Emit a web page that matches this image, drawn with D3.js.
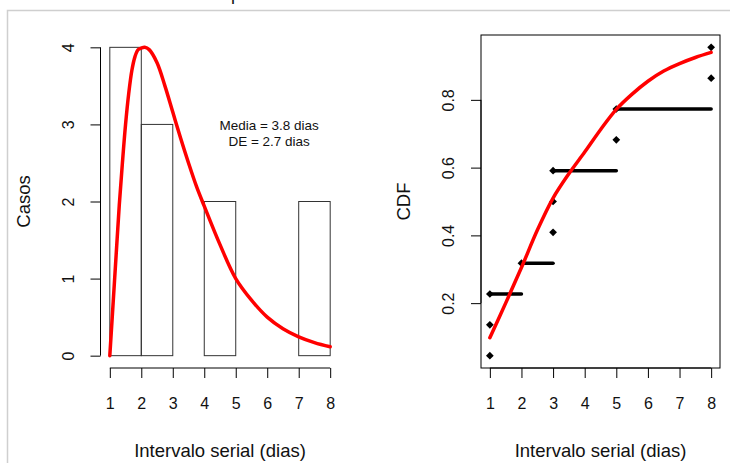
<!DOCTYPE html>
<html>
<head>
<meta charset="utf-8">
<script src="https://cdn.jsdelivr.net/npm/d3@7"></script>
<style>
    html, body { margin: 0; padding: 0; background: #fff; }
    svg { display: block; }
    text { font-family: "Liberation Sans", Arial, Helvetica, sans-serif; fill: #111; }
</style>
</head>
<body>
<div id="chart"></div>
<script>
// Data - histogram
const xTicks = [1, 2, 3, 4, 5, 6, 7, 8];
const histBreaks = [1, 2, 3, 4, 5, 6, 7, 8];
const histCounts = [4, 3, 0, 2, 0, 0, 2];
const countTicks = [0, 1, 2, 3, 4];

// Data - fitted density
const densityX = [1.00, 1.10, 1.20, 1.30, 1.40, 1.50, 1.60, 1.70, 1.80, 1.90, 2.00, 2.11,
    2.25, 2.50, 2.75, 3.00, 3.25, 3.50, 3.75, 4.00, 4.50, 5.00, 5.50, 6.00, 6.50, 7.00, 7.50, 8.00];
const densityY = [0, 0.65, 1.30, 1.95, 2.50, 3.00, 3.40, 3.70, 3.88, 3.97, 3.99, 4.00,
    3.97, 3.80, 3.50, 3.16, 2.82, 2.50, 2.20, 1.94, 1.44, 1.00, 0.72, 0.50, 0.35, 0.245, 0.17, 0.115];

// Data - cumulative
const cdfTicks = [0.2, 0.4, 0.6, 0.8];
const obsX = [1, 1, 1, 2, 3, 3, 3, 5, 5, 8, 8];
const obsCdf = [0.045, 0.136, 0.227, 0.318, 0.409, 0.5, 0.591, 0.682, 0.773, 0.864, 0.955];
const stepFrom = [1, 2, 3, 5];
const stepTo = [2, 3, 5, 8];
const stepCdf = [0.227, 0.318, 0.591, 0.773];
const fitX = [1.0, 1.5, 2.0, 2.5, 3.0, 3.5, 4.0, 4.5, 5.0, 5.5, 6.0, 6.5, 7.0, 7.5, 8.0];
const fitCdf = [0.098, 0.200, 0.305, 0.415, 0.510, 0.582, 0.646, 0.712, 0.772, 0.817, 0.855,
    0.885, 0.907, 0.925, 0.940];

// Labels
const statsText = ['Media = 3.8 dias', 'DE = 2.7 dias'];
const xLabel = 'Intervalo serial (dias)';
const yLabels = ['Casos', 'CDF'];

const configs = {
    w: 730,
    h: 463,
    top: 35,
    bottom: 368,
    leftPanel: [101, 339],
    rightPanel: [481, 720],
    ext: 0.04,          // R style axis extension
    tickSize: 10,
    tickLabelY: 41,
    tickLabelX: 27,
    tickFont: 16,
    titleFont: 18.5,
    titleBaseline: 456.7,
    titleOffset: 71,
    noteFont: 13.5,
    noteAt: [6.06, 2.93],
    noteGap: 16.6,
    lineW: 3.5,
    red: '#ff0000',
};

// Helpers
const extend = (ext) => {
    const pad = (ext[1] - ext[0]) * configs.ext;
    return [ext[0] - pad, ext[1] + pad];
};

const svg = d3.select('#chart').append('svg')
    .attr('width', configs.w)
    .attr('height', configs.h);

// Screenshot frame + clipped title descender
svg.append('path')
    .attr('d', `M7.5,${configs.h} V10.5 H${configs.w}`)
    .attr('fill', 'none')
    .attr('stroke', '#cfcfcf')
    .attr('stroke-width', 1.5);
svg.append('text')
    .attr('x', 231)
    .attr('y', 0)
    .attr('font-size', 18)
    .text('p');

// Scales
const xLeft = d3.scaleLinear().domain(extend(d3.extent(histBreaks))).range(configs.leftPanel);
const yCount = d3.scaleLinear().domain(extend([0, d3.max(histCounts)])).range([configs.bottom, configs.top]);
const xRight = d3.scaleLinear().domain(extend(d3.extent(obsX))).range(configs.rightPanel);
const yCdf = d3.scaleLinear().domain(extend(d3.extent(obsCdf))).range([configs.bottom, configs.top]);

/**
 * @function bottomAxis
 */
function bottomAxis(x) {
    const g = svg.append('g')
        .attr('transform', `translate(0,${configs.bottom})`)
        .call(d3.axisBottom(x).tickValues(xTicks).tickSize(configs.tickSize).tickFormat(d3.format('d')))
        .call(g => g.select('.domain').remove())
        .attr('font-size', configs.tickFont);
    g.selectAll('.tick text').attr('y', configs.tickLabelY).attr('dy', 0);
    g.append('line')
        .attr('x1', x(xTicks[0]))
        .attr('x2', x(xTicks[xTicks.length - 1]))
        .attr('stroke', '#000');
    svg.append('text')
        .attr('x', (x.range()[0] + x.range()[1]) / 2)
        .attr('y', configs.titleBaseline)
        .attr('text-anchor', 'middle')
        .attr('font-size', configs.titleFont)
        .text(xLabel);
}

/**
 * @function leftAxis
 */
function leftAxis(y, xPos, ticks, fmt, label) {
    const g = svg.append('g')
        .attr('transform', `translate(${xPos},0)`)
        .call(d3.axisLeft(y).tickValues(ticks).tickSize(configs.tickSize).tickFormat(fmt))
        .call(g => g.select('.domain').remove())
        .attr('font-size', configs.tickFont);
    g.selectAll('.tick text')
        .attr('x', 0)
        .attr('y', -configs.tickLabelX)
        .attr('dy', 0)
        .attr('text-anchor', 'middle')
        .attr('transform', 'rotate(-90)');
    g.append('line')
        .attr('y1', y(ticks[0]))
        .attr('y2', y(ticks[ticks.length - 1]))
        .attr('stroke', '#000');
    svg.append('text')
        .attr('transform', `translate(${xPos - configs.titleOffset},${(configs.top + configs.bottom) / 2}) rotate(-90)`)
        .attr('text-anchor', 'middle')
        .attr('font-size', configs.titleFont)
        .text(label);
}

// Left panel: histogram
const bins = histCounts.map((c, i) => ({ x0: histBreaks[i], x1: histBreaks[i + 1], c }));
svg.append('g')
    .selectAll('rect')
    .data(bins)
    .join('rect')
    .attr('x', d => xLeft(d.x0))
    .attr('y', d => yCount(d.c))
    .attr('width', d => xLeft(d.x1) - xLeft(d.x0))
    .attr('height', d => yCount(0) - yCount(d.c))
    .attr('fill', 'none')
    .attr('stroke', '#333')
    .attr('stroke-width', 1);

svg.append('path')
    .datum(densityX.map((x, i) => [x, densityY[i]]))
    .attr('d', d3.line().x(d => xLeft(d[0])).y(d => yCount(d[1])).curve(d3.curveCatmullRom.alpha(0.5)))
    .attr('fill', 'none')
    .attr('stroke', configs.red)
    .attr('stroke-width', configs.lineW)
    .attr('stroke-linecap', 'round');

svg.append('g')
    .selectAll('text')
    .data(statsText)
    .join('text')
    .attr('x', xLeft(configs.noteAt[0]))
    .attr('y', (d, i) => yCount(configs.noteAt[1]) + i * configs.noteGap)
    .attr('text-anchor', 'middle')
    .attr('font-size', configs.noteFont)
    .text(d => d);

bottomAxis(xLeft);
leftAxis(yCount, configs.leftPanel[0] - 0.5, countTicks, d3.format('d'), yLabels[0]);

// Right panel: cumulative
svg.append('rect')
    .attr('x', configs.rightPanel[0])
    .attr('y', configs.top)
    .attr('width', configs.rightPanel[1] - configs.rightPanel[0])
    .attr('height', configs.bottom - configs.top)
    .attr('fill', 'none')
    .attr('stroke', '#000');

svg.append('g')
    .selectAll('line')
    .data(stepCdf)
    .join('line')
    .attr('x1', (d, i) => xRight(stepFrom[i]))
    .attr('x2', (d, i) => xRight(stepTo[i]))
    .attr('y1', d => yCdf(d))
    .attr('y2', d => yCdf(d))
    .attr('stroke', '#000')
    .attr('stroke-width', configs.lineW)
    .attr('stroke-linecap', 'round');

svg.append('g')
    .selectAll('path')
    .data(obsCdf)
    .join('path')
    .attr('transform', (d, i) => `translate(${xRight(obsX[i])},${yCdf(d)}) rotate(45)`)
    .attr('d', d3.symbol(d3.symbolSquare, 30))
    .attr('fill', '#000');

svg.append('path')
    .datum(fitX.map((x, i) => [x, fitCdf[i]]))
    .attr('d', d3.line().x(d => xRight(d[0])).y(d => yCdf(d[1])).curve(d3.curveCatmullRom.alpha(0.5)))
    .attr('fill', 'none')
    .attr('stroke', configs.red)
    .attr('stroke-width', configs.lineW)
    .attr('stroke-linecap', 'round');

bottomAxis(xRight);
leftAxis(yCdf, configs.rightPanel[0], cdfTicks, d3.format('.1f'), yLabels[1]);
</script>
</body>
</html>
